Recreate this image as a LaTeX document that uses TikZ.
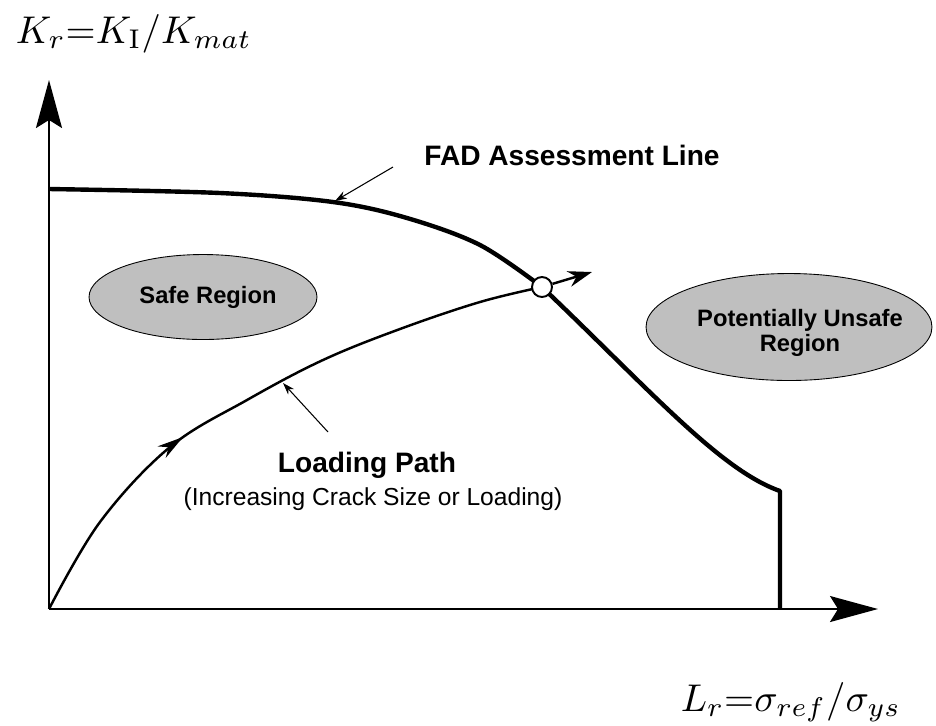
\documentclass[tikz,border=0pt]{standalone}
\usepackage{fontspec}
\newfontfamily\labelfont{Liberation Sans}
\usetikzlibrary{arrows.meta,shapes.geometric,decorations.markings}

\tikzset{
  axis/.style={line width=1.1pt, -{Stealth[length=0.96cm,width=0.52cm,inset=0.16cm]}},
  fadline/.style={line width=2.5pt, line join=round},
  loadpath/.style={line width=1.4pt},
  pointer/.style={line width=0.6pt, -{Stealth[length=0.24cm,width=0.16cm]}},
  regionblob/.style={ellipse, draw, line width=0.5pt, fill=black!25, inner sep=0pt},
  regiontext/.style={font=\labelfont\bfseries\fontsize{13.5}{14.2}\selectfont, align=center},
  titletext/.style={font=\labelfont\bfseries\fontsize{16}{19}\selectfont},
  subtext/.style={font=\labelfont\fontsize{14}{17}\selectfont},
  axislabel/.style={scale=2.2, inner sep=0pt, anchor=base west},
}

\begin{document}
\begin{tikzpicture}[x=0.02cm, y=-0.02cm]
  \useasboundingbox (0,0) rectangle (936,725);
  % axes
  \coordinate (origin) at (49,609);
  \coordinate (ytip) at (49,80);
  \coordinate (xtip) at (878,609);
  \draw[axis] (origin) -- (ytip);
  \draw[axis] (origin) -- (xtip);
  \node[axislabel] (klbl) at (15,43) {$K_r{=}K_{\mathrm{I}}/K_{mat}$};
  \node[axislabel] (llbl) at (680,711) {$L_r{=}\sigma_{ref}/\sigma_{ys}$};

  % regions
  \node[regionblob, minimum width=4.56cm, minimum height=1.7cm] (safe) at (203,297) {};
  \node[regiontext] (safetxt) at (208,297) {Safe Region};
  \node[regionblob, minimum width=5.72cm, minimum height=2.14cm] (unsafe) at (789,327) {};
  \node[regiontext] (unsafetxt) at (800,333) {Potentially Unsafe\\Region};

  % assessment line
  \draw[fadline] plot[smooth, tension=0.55] coordinates {(49,189) (220,193) (333,202) (407,218)
      (480,245) (542,287)}
      .. controls (650,390) and (720,470) .. (780,491) -- (780,609);

  % loading path
  \draw[loadpath, postaction={decorate}, decoration={markings,
      mark=at position 0.36 with {\arrow{Stealth[length=0.52cm,width=0.28cm]}}}]
      plot[smooth, tension=0.6] coordinates {(49,609) (100,522) (170,447) (247,400)
      (323,360) (400,329) (480,302) (542,287)};
  \node[draw, circle, fill=white, line width=1.1pt, minimum size=0.4cm, inner sep=0pt] (cross) at (542,287) {};
  \coordinate (looptip) at (592,272);
  \draw[loadpath, -{Stealth[length=0.48cm,width=0.32cm]}] (cross) -- (looptip);

  % labels
  \node[titletext, anchor=base] (fadlbl) at (572,165) {FAD Assessment Line};
  \node[titletext, anchor=base] (loadlbl) at (367,472) {Loading Path};
  \node[subtext, anchor=base] (loadsub) at (373,505) {(Increasing Crack Size or Loading)};
  \coordinate (fadfrom) at (393,167);
  \coordinate (fadto) at (335,201);
  \draw[pointer] (fadfrom) -- (fadto);
  \coordinate (loadfrom) at (328,432);
  \coordinate (loadto) at (283,383);
  \draw[pointer] (loadfrom) -- (loadto);
\end{tikzpicture}
\end{document}
